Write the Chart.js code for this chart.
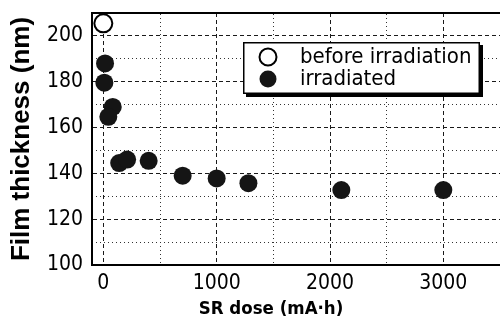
<!DOCTYPE html>
<html><head><meta charset="utf-8">
<script src="https://cdn.jsdelivr.net/npm/chart.js@4"></script>
<style>html,body{margin:0;padding:0;background:#fff;overflow:hidden}#wrap{width:500px;height:325px;position:relative}</style>
</head><body><div id="wrap"><canvas id="c" width="500" height="325"></canvas></div>
<script>
const beforeDose = [0];
const beforeThickness = [205.5];
const irradiatedDose = [15, 9, 83, 44, 140, 210, 400, 700, 1000, 1280, 2100, 3000];
const irradiatedThickness = [188, 179.6, 169, 164.7, 144.5, 146, 145.5, 139, 137.8, 135.7, 132.7, 132.7];
const xMajorTicks = [0, 1000, 2000, 3000];
const xMinorTicks = [500, 1500, 2500];
const yMajorTicks = [100, 120, 140, 160, 180, 200];
const yMinorTicks = [110, 130, 150, 170, 190];
const seriesLabels = ['before irradiation', 'irradiated'];
const xTitle = 'SR dose (mA·h)';
const yTitle = 'Film thickness (nm)';

const FONT = "'DejaVu Sans Condensed', 'DejaVu Sans', sans-serif";
const YFONT = "'Liberation Sans', Arial, sans-serif";

function pts(xs, ys) { return xs.map((x, i) => ({x: x, y: ys[i]})); }
function setTicks(list) { return a => { a.ticks = list.map(v => ({value: v})); }; }

function drawFrame(chart) {
  const f = chart.$frame; if (!f) return;
  const ctx = chart.ctx;
  ctx.save();
  ctx.fillStyle = '#000';
  ctx.fillRect(f.x + 3, f.y + 3, f.w, f.h);
  ctx.fillStyle = '#fff';
  ctx.fillRect(f.x, f.y, f.w, f.h);
  ctx.strokeStyle = '#000';
  ctx.lineWidth = 1.5;
  ctx.strokeRect(f.x + 0.75, f.y + 0.75, f.w - 1.5, f.h - 1.5);
  ctx.restore();
}

const legendFrame = {
  id: 'legendFrame',
  afterInit(chart) {
    const lg = chart.legend;
    if (!lg) return;
    const orig = lg.draw.bind(lg);
    lg.draw = function (ca) { drawFrame(chart); orig(ca); };
  },
  afterLayout(chart) {
    const lg = chart.legend; const a = chart.chartArea;
    const fx = a.left + 151, fy = a.top + 29;
    chart.$frame = {x: fx, y: fy, w: 237, h: 52};
    lg.left = fx + 14; lg.top = fy + 4;
    lg.width = 220; lg.height = 46;
    lg.right = lg.left + lg.width; lg.bottom = lg.top + lg.height;
  }
};

const gridMajor = {color: '#1a1a1a', lineWidth: 1, drawTicks: false};
const gridMinor = {color: '#333', lineWidth: 1, drawTicks: false};

new Chart(document.getElementById('c'), {
  type: 'scatter',
  data: {
    datasets: [
      {label: '\u2002' + seriesLabels[0], data: pts(beforeDose, beforeThickness),
       pointRadius: 9, pointHoverRadius: 9, borderWidth: 2, backgroundColor: '#fff', borderColor: '#000', pointStyle: 'circle'},
      {label: '\u2002' + seriesLabels[1], data: pts(irradiatedDose, irradiatedThickness),
       pointRadius: 9, pointHoverRadius: 9, borderWidth: 0, backgroundColor: '#151515', borderColor: '#151515', pointStyle: 'circle'}
    ]
  },
  plugins: [legendFrame],
  options: {
    responsive: false, animation: false, devicePixelRatio: 1,
    layout: {padding: 0, autoPadding: false},
    clip: false,
    plugins: {
      tooltip: {enabled: false},
      legend: {
        display: true, position: 'chartArea', align: 'start',
        labels: {usePointStyle: true, boxWidth: 22, boxHeight: 12, padding: 0, color: '#000',
                 font: {family: FONT, size: 22}}
      }
    },
    scales: {
      x: {
        type: 'linear', position: 'bottom', min: -100, max: 3500,
        afterBuildTicks: setTicks(xMajorTicks),
        afterFit: a => { a.height = 60; a.paddingLeft = 0; a.paddingRight = 0; },
        ticks: {callback: v => String(v), color: '#000', font: {family: FONT, size: 21}, padding: 6, autoSkip: false, maxRotation: 0},
        grid: gridMajor,
        border: {display: true, color: '#000', width: 2, dash: [4, 3]},
        title: {display: true, text: xTitle + '\u2003\u2003\u2003', color: '#000',
                font: {family: FONT, size: 18.5, weight: 'bold'}, padding: {top: 0, bottom: 5}}
      },
      x2: {
        type: 'linear', position: 'top', min: -100, max: 3500,
        afterBuildTicks: setTicks(xMinorTicks),
        afterFit: a => { a.height = 13; a.paddingLeft = 0; a.paddingRight = 0; },
        ticks: {display: false},
        grid: gridMinor,
        border: {display: true, color: '#000', width: 2, dash: [1, 3]}
      },
      y: {
        type: 'linear', position: 'left', min: 100, max: 210,
        afterBuildTicks: setTicks(yMajorTicks),
        afterFit: a => { a.width = 92; a.paddingTop = 0; a.paddingBottom = 0; },
        ticks: {callback: v => String(v), color: '#000', font: {family: FONT, size: 21}, padding: 9, autoSkip: false},
        grid: gridMajor,
        border: {display: true, color: '#000', width: 2, dash: [4, 3]},
        title: {display: true, text: yTitle, color: '#000',
                font: {family: YFONT, size: 26, weight: 'bold'}, padding: {top: 6, bottom: 0}}
      },
      y2: {
        type: 'linear', position: 'right', min: 100, max: 210,
        afterBuildTicks: setTicks(yMinorTicks),
        afterFit: a => { a.width = 0; a.paddingTop = 0; a.paddingBottom = 0; },
        ticks: {display: false},
        grid: gridMinor,
        border: {display: false, dash: [1, 3]}
      }
    }
  }
});
</script>
</body></html>
